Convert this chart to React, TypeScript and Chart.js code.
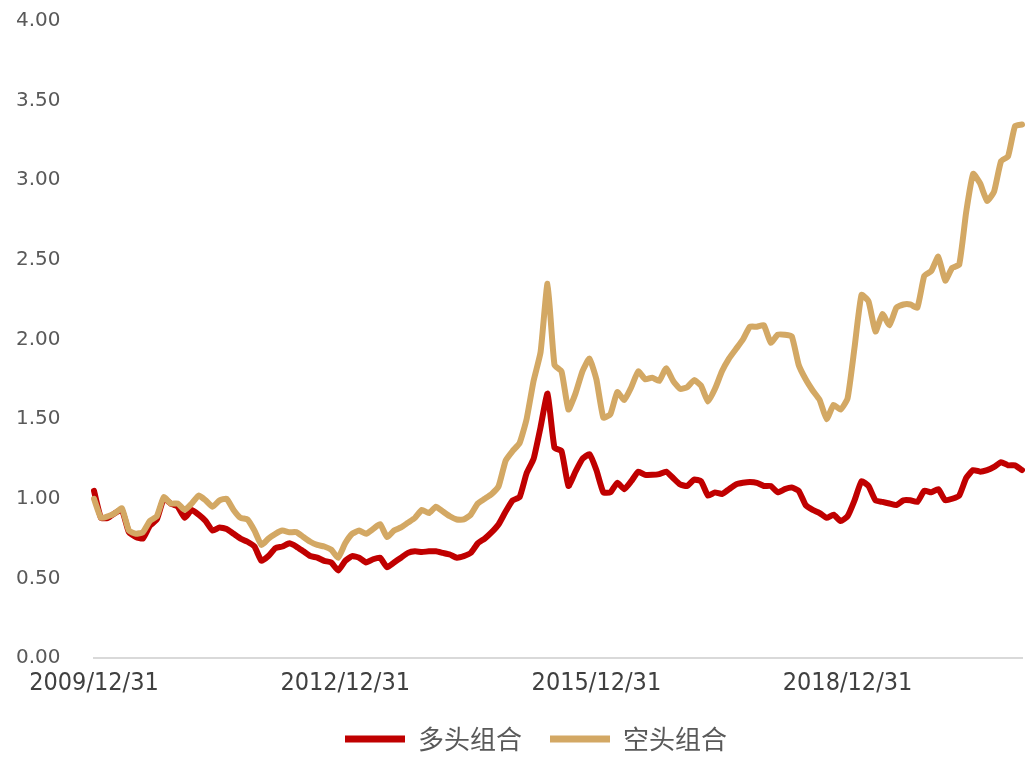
import React, { useEffect, useRef } from "react";
import { Chart, registerables } from "chart.js";

Chart.register(...registerables);

// Month-end dates from 2009/12/31 to 2021/01/31
const START_YEAR = 2009;
const START_MONTH = 12;
const MONTH_COUNT = 134;

const tickLabels = ["2009/12/31", "2012/12/31", "2015/12/31", "2018/12/31"];

const longSeries = [
  1.05, 0.88, 0.88, 0.91, 0.93, 0.79, 0.76, 0.75, 0.83, 0.87, 1.0, 0.97,
  0.95, 0.88, 0.93, 0.9, 0.86, 0.8, 0.82, 0.81, 0.78, 0.75, 0.73, 0.7,
  0.61, 0.64, 0.69, 0.7, 0.72, 0.7, 0.67, 0.64, 0.63, 0.61, 0.6, 0.55,
  0.61, 0.64, 0.63, 0.6, 0.62, 0.63, 0.57, 0.6, 0.63, 0.66, 0.67, 0.665,
  0.67, 0.67, 0.66, 0.65, 0.63, 0.64, 0.66, 0.72, 0.75, 0.79, 0.84, 0.92,
  0.99, 1.01, 1.16, 1.25, 1.45, 1.66, 1.32, 1.3, 1.08, 1.17, 1.25, 1.28,
  1.18, 1.04, 1.04, 1.1, 1.06, 1.11, 1.17, 1.15, 1.15, 1.155, 1.17, 1.13,
  1.09, 1.08, 1.12, 1.11, 1.02, 1.04, 1.03, 1.06, 1.09, 1.1, 1.105, 1.1,
  1.08, 1.08, 1.04, 1.06, 1.07, 1.05, 0.96, 0.93, 0.91, 0.88, 0.9, 0.86,
  0.89, 0.99, 1.11, 1.08, 0.99, 0.98, 0.97, 0.96, 0.99, 0.99, 0.98, 1.05,
  1.04, 1.06, 0.99, 1.0, 1.02, 1.13, 1.18, 1.17, 1.18, 1.2, 1.23, 1.21,
  1.21, 1.18,
];

const shortSeries = [
  1.0, 0.88, 0.89, 0.91, 0.94, 0.8, 0.78, 0.79, 0.86, 0.89, 1.01, 0.97,
  0.97, 0.93, 0.97, 1.02, 0.99, 0.95, 0.99, 1.0, 0.93, 0.88, 0.87, 0.8,
  0.71, 0.75, 0.78, 0.8, 0.79, 0.79, 0.76, 0.73, 0.71, 0.7, 0.68, 0.63,
  0.72, 0.78, 0.8, 0.78, 0.81, 0.84, 0.76, 0.8, 0.82, 0.85, 0.88, 0.93,
  0.91, 0.95, 0.92, 0.89, 0.87, 0.87, 0.9, 0.97, 1.0, 1.03, 1.08, 1.24,
  1.3, 1.35, 1.5, 1.74, 1.92, 2.35, 1.84, 1.8, 1.56, 1.66, 1.8, 1.88,
  1.75, 1.51, 1.53, 1.67, 1.62, 1.7, 1.8, 1.75, 1.76, 1.74, 1.82, 1.74,
  1.69, 1.7, 1.745, 1.71, 1.61, 1.69, 1.8, 1.88, 1.94, 2.0, 2.08, 2.08,
  2.09, 1.98, 2.03, 2.03, 2.02, 1.84, 1.75, 1.68, 1.62, 1.5, 1.59, 1.56,
  1.63, 1.95, 2.28, 2.24, 2.05, 2.16, 2.09, 2.2, 2.22, 2.22, 2.2, 2.4,
  2.43, 2.52, 2.37, 2.45, 2.47, 2.8, 3.04, 2.98, 2.87, 2.93, 3.12, 3.15,
  3.34, 3.35,
];

const yTicks = [0, 0.5, 1, 1.5, 2, 2.5, 3, 3.5, 4];

const seriesNames = ["多头组合", "空头组合"];

function buildCategories(): string[] {
  const out: string[] = [];
  for (let k = 0; k < MONTH_COUNT; k++) {
    const m0 = START_MONTH - 1 + k;
    const y = START_YEAR + Math.floor(m0 / 12);
    const m = (m0 % 12) + 1;
    const d = new Date(y, m, 0).getDate();
    out.push(`${y}/${m}/${d}`);
  }
  return out;
}

const categories = buildCategories();

// shifts the legend block to where the original places it
const legendShift = {
  id: "legendShift",
  afterLayout(chart: any) {
    const l = chart.legend;
    if (!l) return;
    l.left += 17;
    l.right += 17;
    l.top += 3;
    l.bottom += 3;
  },
};

export default function App() {
  const ref = useRef<HTMLCanvasElement | null>(null);

  useEffect(() => {
    if (!ref.current) return;
    const chart = new Chart(ref.current, {
      type: "line",
      plugins: [legendShift],
      data: {
        labels: categories,
        datasets: [
          {
            label: seriesNames[0],
            data: longSeries,
            borderColor: "#C00000",
            backgroundColor: "#C00000",
            borderWidth: 6,
            pointRadius: 0,
            tension: 0.15,
            borderJoinStyle: "round",
            borderCapStyle: "round",
            order: 1,
          },
          {
            label: seriesNames[1],
            data: shortSeries,
            borderColor: "#D3A864",
            backgroundColor: "#D3A864",
            borderWidth: 6,
            pointRadius: 0,
            tension: 0.15,
            borderJoinStyle: "round",
            borderCapStyle: "round",
            order: 0,
          },
        ],
      },
      options: {
        animation: false,
        responsive: false,
        maintainAspectRatio: false,
        layout: { padding: { top: 21, right: 10, bottom: 0, left: 16 } },
        plugins: {
          tooltip: { enabled: false },
          legend: {
            position: "bottom",
            labels: {
              boxWidth: 60,
              boxHeight: 7,
              padding: 28,
              color: "#595959",
              font: { family: "'Noto Sans CJK SC', sans-serif", size: 26 },
              sort: (a: any, b: any) => a.datasetIndex - b.datasetIndex,
              generateLabels: (c: any) =>
                Chart.defaults.plugins.legend.labels
                  .generateLabels(c)
                  .map((l: any) => ({ ...l, lineWidth: 0 })),
            },
          },
        },
        scales: {
          x: {
            type: "category",
            grid: { display: false, drawTicks: false },
            border: { display: true, color: "#D9D9D9", width: 2 },
            ticks: {
              autoSkip: false,
              maxRotation: 0,
              minRotation: 0,
              padding: 10,
              color: "#404040",
              font: { family: "'DejaVu Sans Condensed', 'DejaVu Sans', sans-serif", size: 25 },
              callback: (_v: any, i: number) =>
                tickLabels.includes(categories[i]) ? categories[i] : null,
            },
            afterFit: (s: any) => {
              s.height = 37;
            },
          },
          y: {
            min: 0,
            max: 4,
            grid: { display: false, drawTicks: false },
            border: { display: false },
            afterBuildTicks: (s: any) => {
              s.ticks = yTicks.map((v) => ({ value: v }));
            },
            ticks: {
              padding: 0,
              crossAlign: "far",
              color: "#595959",
              font: { family: "'DejaVu Sans', sans-serif", size: 20 },
              callback: (v: any) => Number(v).toFixed(2),
            },
            afterFit: (s: any) => {
              s.width = 78;
            },
          },
        },
      },
    });
    return () => chart.destroy();
  }, []);

  return (
    <div style={{ position: "fixed", left: 0, top: 0, width: 1032, height: 759, background: "#fff" }}>
      <canvas ref={ref} width={1032} height={759} style={{ width: 1032, height: 759 }} />
    </div>
  );
}
